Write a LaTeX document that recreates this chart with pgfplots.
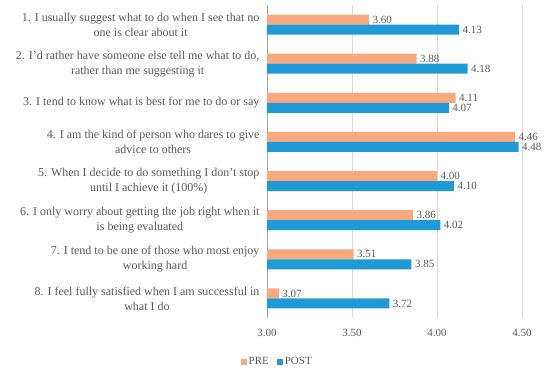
\documentclass[border=0pt]{standalone}
\usepackage{pgfplots}
\pgfplotsset{compat=1.18}
\usepackage{fontspec}
\setmainfont{Liberation Serif}
\definecolor{preC}{HTML}{F8A97E}
\definecolor{postC}{HTML}{1F9AD6}
\definecolor{txt}{HTML}{595959}
\definecolor{gridC}{HTML}{D9D9D9}
\begin{document}
\begin{tikzpicture}
\useasboundingbox (0,0) rectangle (550pt,373pt);
\begin{axis}[
  at={(267pt,55pt)}, anchor=south west,
  scale only axis, width=255pt, height=313pt,
  xbar, bar width=10pt,
  xmin=3, xmax=4.5, ymin=-0.5, ymax=7.5,
  clip mode=individual,
  axis line style={draw=none},
  xtick={3,3.5,4,4.5}, xticklabels={3.00,3.50,4.00,4.50},
  xmajorgrids, grid style={gridC, line width=0.8pt},
  major tick length=0pt,
  xticklabel style={font=\fontsize{11}{13}\selectfont, text=txt, yshift=-8pt},
  ytick={0,...,7},
  yticklabels={{8. I feel fully satisfied when I am successful in\\what I do},
    {7. I tend to be one of those who most enjoy\\working hard},
    {6. I only worry about getting the job right when it\\is being evaluated},
    {5. When I decide to do something I don't stop\\until I achieve it (100\%)},
    {4. I am the kind of person who dares to give\\advice to others},
    {3. I tend to know what is best for me to do or say},
    {2. I'd rather have someone else tell me what to do,\\rather than me suggesting it},
    {1. I usually suggest what to do when I see that no\\one is clear about it}},
  yticklabel style={align=center, font=\fontsize{12}{15}\selectfont, text=txt, xshift=-4pt},
  nodes near coords,
  nodes near coords style={font=\fontsize{11}{13}\selectfont, text=txt,
    /pgf/number format/.cd, fixed, fixed zerofill, precision=2, assume math mode=true},
  legend style={draw=none, at={(axis description cs:0.04,-0.14)}, anchor=center,
    legend columns=2, font=\fontsize{11}{13}\selectfont, text=txt,
    /tikz/every even column/.append style={column sep=6pt}},
  legend image code/.code={\fill[#1] (0pt,-3pt) rectangle (6pt,3pt);},
]
\draw[gray!70, line width=0.8pt] (axis cs:3,-0.5) -- (axis cs:3,7.5);
\addplot[fill=preC, draw=none, bar shift=5pt] coordinates {
  (3.07,0) (3.51,1) (3.86,2) (4.00,3) (4.46,4) (4.11,5) (3.88,6) (3.60,7)};
\addplot[fill=postC, draw=none, bar shift=-5pt] coordinates {
  (3.72,0) (3.85,1) (4.02,2) (4.10,3) (4.48,4) (4.07,5) (4.18,6) (4.13,7)};
\legend{PRE,POST}
\end{axis}
\end{tikzpicture}
\end{document}
